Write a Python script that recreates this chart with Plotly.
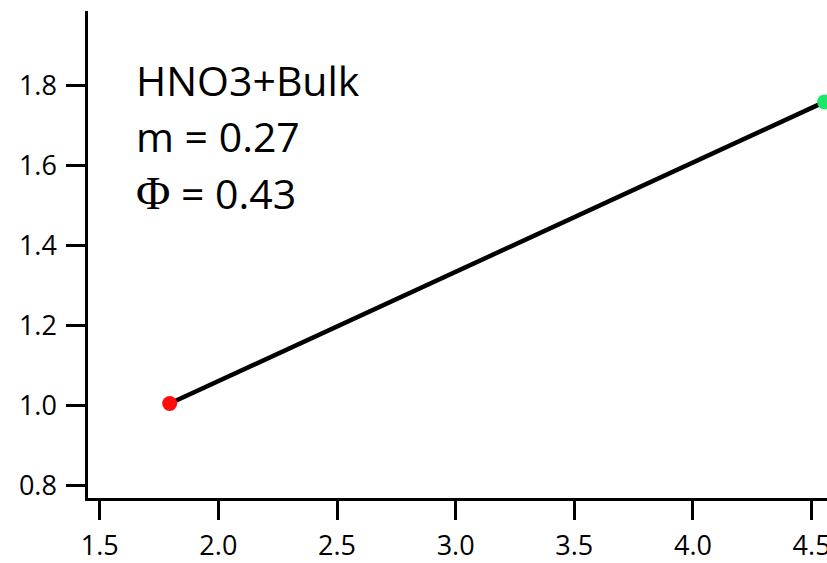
import plotly.graph_objects as go

x_vals = [1.795, 4.555]
y_vals = [1.006, 1.759]
point_colors = ["#ff0d0d", "#19e86a"]
x_ticks = [1.5, 2.0, 2.5, 3.0, 3.5, 4.0, 4.5]
y_ticks = [0.8, 1.0, 1.2, 1.4, 1.6, 1.8]
label_lines = ["HNO3+Bulk", "m = 0.27",
               "<span style=\"font-family:'Liberation Serif';font-size:47px\">Φ</span> = 0.43"]

FONT = "Open Sans"

fig = go.Figure()
fig.add_trace(go.Scatter(x=x_vals, y=y_vals, mode="lines",
                         line=dict(color="black", width=4.5), showlegend=False,
                         hoverinfo="skip"))
fig.add_trace(go.Scatter(x=x_vals, y=y_vals, mode="markers",
                         marker=dict(color=point_colors, size=15, line=dict(width=0)),
                         showlegend=False))

ys = [0.858, 0.743, 0.626]
for t, yy in zip(label_lines, ys):
    fig.add_annotation(x=0.0613, y=yy, xref="paper", yref="paper", text=t,
                       showarrow=False, xanchor="left", yanchor="middle",
                       font=dict(family=FONT, size=41, color="black"))

fig.update_layout(
    width=850, height=600,
    margin=dict(l=88, r=12, t=11, b=102),
    paper_bgcolor="white", plot_bgcolor="white",
    font=dict(family=FONT, size=27, color="black"),
)
fig.update_xaxes(range=[1.4507, 4.6113], tickvals=x_ticks,
                 ticktext=[f"{v:.1f}" for v in x_ticks],
                 showgrid=False, zeroline=False, showline=True, linecolor="black",
                 linewidth=2.5, ticks="outside", ticklen=19, tickwidth=2.5,
                 tickcolor="black", ticklabelstandoff=3, automargin=False)
fig.update_yaxes(range=[0.770, 1.986], tickvals=y_ticks,
                 ticktext=[f"{v:.1f}" for v in y_ticks],
                 showgrid=False, zeroline=False, showline=True, linecolor="black",
                 linewidth=2.5, ticks="outside", ticklen=19, tickwidth=2.5,
                 tickcolor="black", ticklabelstandoff=4, automargin=False)

fig.write_html(
    "out.html",
    config={"displayModeBar": False},
    post_script="document.body.style.margin='0';document.body.style.overflow='hidden';",
)
